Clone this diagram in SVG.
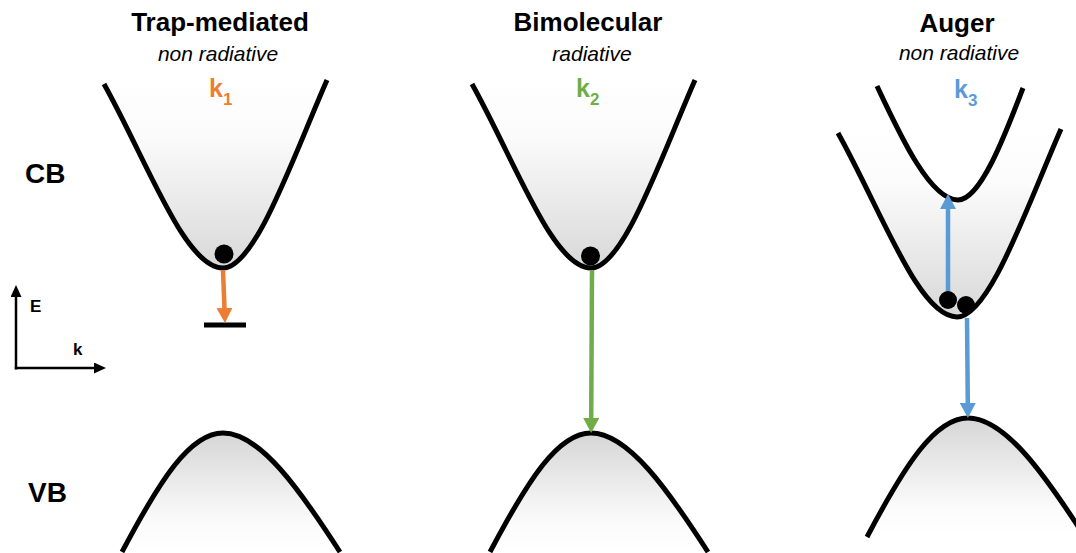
<svg xmlns="http://www.w3.org/2000/svg" width="1076" height="553" viewBox="0 0 1076 553">
<style>
  .cbf{fill:url(#gCB);stroke:none;}
  .vbf{fill:url(#gVB);stroke:none;}
  .line{fill:none;stroke:#000;stroke-width:5;}
  .title{font-family:"Liberation Sans",Arial,sans-serif;font-weight:bold;font-size:26px;fill:#000;text-anchor:middle;}
  .sub{font-family:"Liberation Sans",Arial,sans-serif;font-style:italic;font-size:21px;fill:#000;text-anchor:middle;}
  .k{font-family:"Liberation Sans",Arial,sans-serif;font-weight:bold;font-size:25px;}
  .lbl{font-family:"Liberation Sans",Arial,sans-serif;font-weight:bold;font-size:28px;fill:#000;}
  .ax{font-family:"Liberation Sans",Arial,sans-serif;font-weight:bold;font-size:17px;fill:#000;}
  .e{fill:#000;}
</style>
<defs>
  <linearGradient id="gCB" x1="0" y1="0" x2="0" y2="1">
    <stop offset="0" stop-color="#ffffff"/>
    <stop offset="0.3" stop-color="#fbfbfb"/>
    <stop offset="1" stop-color="#d8d8d8"/>
  </linearGradient>
  <linearGradient id="gVB" x1="0" y1="0" x2="0" y2="1">
    <stop offset="0" stop-color="#d6d6d6"/>
    <stop offset="0.75" stop-color="#fbfbfb"/>
    <stop offset="1" stop-color="#ffffff"/>
  </linearGradient>
  <marker id="aO" viewBox="0 0 15 16" markerWidth="15" markerHeight="16" refX="1" refY="8" orient="auto" markerUnits="userSpaceOnUse"><path d="M0,0 L15,8 L0,16 z" fill="#ED7D31"/></marker>
  <marker id="aG" viewBox="0 0 15 16" markerWidth="15" markerHeight="16" refX="1" refY="8" orient="auto" markerUnits="userSpaceOnUse"><path d="M0,0 L15,8 L0,16 z" fill="#70AD47"/></marker>
  <marker id="aB" viewBox="0 0 15 16" markerWidth="15" markerHeight="16" refX="1" refY="8" orient="auto" markerUnits="userSpaceOnUse"><path d="M0,0 L15,8 L0,16 z" fill="#5B9BD5"/></marker>
  <marker id="aK" viewBox="0 0 12 11" markerWidth="12" markerHeight="11" refX="1" refY="5.5" orient="auto" markerUnits="userSpaceOnUse"><path d="M0,0 L12,5.5 L0,11 z" fill="#000"/></marker>
  <path id="cbShape" d="M104,84 C148,163 185,268 223,268 C255,268 292,160 327,80"/>
  <path id="vbShape" d="M122,552 C160,480 190,433 223,433 C260,433 300,490 340,552"/>
</defs>

<!-- panel 1 -->
<g id="cb1">
  <use href="#cbShape" class="cbf"/>
  <use href="#cbShape" class="line"/>
</g>
<g id="vb1">
  <use href="#vbShape" class="vbf"/>
  <use href="#vbShape" class="line"/>
</g>
<g id="trap1"><rect x="204" y="322.5" width="42" height="5" fill="#000"/></g>

<!-- panel 2 -->
<g id="cb2" transform="translate(368,0)">
  <use href="#cbShape" class="cbf"/>
  <use href="#cbShape" class="line"/>
</g>
<g id="vb2" transform="translate(368,0)">
  <use href="#vbShape" class="vbf"/>
  <use href="#vbShape" class="line"/>
</g>

<!-- panel 3 -->
<g id="cb3-outer" transform="translate(734,49)">
  <use href="#cbShape" class="cbf"/>
  <use href="#cbShape" class="line"/>
</g>
<g id="cb3-inner">
  <path d="M877,86 C900,135 930,200 958,200 C980,200 1004,138 1023,88" fill="#fff" stroke="none"/>
  <path d="M877,86 C900,135 930,200 958,200 C980,200 1004,138 1023,88" class="line"/>
</g>
<g id="vb3" transform="translate(745,-15)">
  <use href="#vbShape" class="vbf"/>
  <use href="#vbShape" class="line"/>
</g>

<!-- titles -->
<g id="title-trap">
  <text class="title" x="220" y="31">Trap-mediated</text>
  <text class="sub" x="218" y="61">non radiative</text>
  <text class="k" x="209" y="97" fill="#ED7D31">k<tspan font-size="17" dy="8">1</tspan></text>
</g>
<g id="title-bimolecular">
  <text class="title" x="588" y="31">Bimolecular</text>
  <text class="sub" x="592" y="61">radiative</text>
  <text class="k" x="576" y="97" fill="#70AD47">k<tspan font-size="17" dy="8">2</tspan></text>
</g>
<g id="title-auger">
  <text class="title" x="957" y="32">Auger</text>
  <text class="sub" x="959" y="60">non radiative</text>
  <text class="k" x="954" y="98" fill="#5B9BD5">k<tspan font-size="17" dy="8">3</tspan></text>
</g>

<g id="label-cb"><text class="lbl" x="25" y="183">CB</text></g>
<g id="label-vb"><text class="lbl" x="28" y="502">VB</text></g>

<!-- axes -->
<g id="axes">
  <line x1="16" y1="369.5" x2="16" y2="296" stroke="#000" stroke-width="2.5" marker-end="url(#aK)"/>
  <line x1="14.8" y1="368" x2="95" y2="368" stroke="#000" stroke-width="2.5" marker-end="url(#aK)"/>
  <text class="ax" x="30" y="312">E</text>
  <text class="ax" x="73" y="355">k</text>
</g>

<!-- connectors -->
<g id="connectors">
  <line x1="223" y1="270" x2="224.5" y2="309" stroke="#ED7D31" stroke-width="4.5" marker-end="url(#aO)"/>
  <line x1="592" y1="270" x2="591.2" y2="419" stroke="#70AD47" stroke-width="4.5" marker-end="url(#aG)"/>
  <line x1="948" y1="298" x2="948" y2="208" stroke="#5B9BD5" stroke-width="4.5" marker-end="url(#aB)"/>
  <line x1="967" y1="318" x2="967.8" y2="404" stroke="#5B9BD5" stroke-width="4.5" marker-end="url(#aB)"/>
</g>

<!-- electrons -->
<g id="electron1"><circle class="e" cx="224" cy="254" r="9.5"/></g>
<g id="electron2"><circle class="e" cx="590.5" cy="256" r="9.5"/></g>
<g id="electron3a"><circle class="e" cx="948" cy="300" r="9"/></g>
<g id="electron3b"><circle class="e" cx="966" cy="305" r="9"/></g>
</svg>
